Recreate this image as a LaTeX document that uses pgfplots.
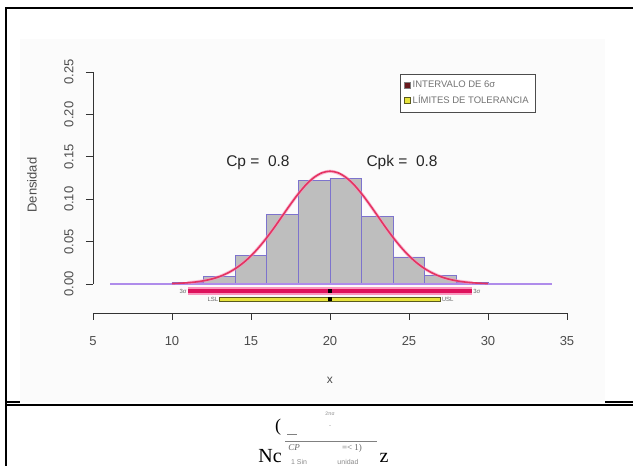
\documentclass[border=0pt]{standalone}
\usepackage{fontspec}
\setmainfont{Liberation Sans}
\newfontfamily\serif{Liberation Serif}
\usepackage{pgfplots}
\pgfplotsset{compat=1.18}

\definecolor{histfill}{RGB}{190,190,190}
\definecolor{histedge}{RGB}{125,115,205}
\definecolor{curvecol}{RGB}{228,52,98}
\definecolor{zeroline}{RGB}{175,140,235}
\definecolor{sixsig}{RGB}{222,18,92}
\definecolor{sixsighalo}{RGB}{250,150,190}
\definecolor{tolfill}{RGB}{232,228,60}
\definecolor{toledge}{RGB}{90,90,30}
\definecolor{legred}{RGB}{105,25,30}
\definecolor{bggray}{RGB}{251,251,251}

\begin{document}
\begin{tikzpicture}[x=1pt,y=1pt]
\path[use as bounding box] (0,0) rectangle (633,466);
\fill[bggray] (20,64) rectangle (605,427);
% page frame
\draw[line width=1.3pt] (6,0) -- (6,458) -- (633,458);
\draw[line width=1.3pt] (6,61) -- (633,61);
\draw[line width=1.1pt] (7,64) -- (20,64);
\draw[line width=1.1pt] (605,64) -- (633,64);

\begin{axis}[
  at={(93pt,153pt)}, anchor=south west,
  scale only axis, width=474pt, height=241pt,
  xmin=5, xmax=35, ymin=-0.0342, ymax=0.25,
  clip=false,
  axis lines=left, axis line style={draw=none,-},
  xtick={5,10,15,20,25,30,35},
  ytick={0,0.05,0.1,0.15,0.2,0.25},
  tick align=outside, major tick length=7pt,
  tick style={black!80, line width=0.8pt},
  tick label style={font=\fontsize{13}{15}\selectfont, text=black!70},
  /pgf/number format/assume math mode=true,
  xticklabel style={yshift=-13pt},
  yticklabel style={xshift=-9pt, rotate=90, anchor=south,
    /pgf/number format/.cd, fixed, fixed zerofill, precision=2},
  xlabel={x},
  xlabel style={at={(rel axis cs:0.5,-0.278)}, anchor=center, font=\fontsize{12}{14}\selectfont, text=black!70},
  ylabel={Densidad},
  ylabel style={at={(rel axis cs:-0.129,0.531)}, anchor=center, font=\fontsize{13}{15}\selectfont, text=black!70},
  legend style={at={(0.648,0.992)}, anchor=north west, draw=black!70,
    font=\fontsize{9.5}{11}\selectfont, text=black!55, inner xsep=4pt, inner ysep=5pt,
    row sep=2.5pt, cells={anchor=west}},
]
\addlegendimage{legend image code/.code={\draw[fill=legred,draw=black!50] (2pt,-3pt) rectangle (8pt,3pt);}}
\addlegendimage{legend image code/.code={\draw[fill=tolfill,draw=toledge] (2pt,-3pt) rectangle (8pt,3pt);}}
\legend{INTERVALO DE 6σ, LÍMITES DE TOLERANCIA}

% histogram (density)
\addplot[ybar interval, fill=histfill, draw=histedge, line width=0.6pt, forget plot]
  coordinates {(10,0.0015) (12,0.0086) (14,0.034) (16,0.082) (18,0.1226)
               (20,0.1246) (22,0.080) (24,0.032) (26,0.0106) (28,0.0015) (30,0.0015)};

% zero line
\addplot[zeroline, line width=1.2pt, forget plot] coordinates {(6.1,0) (34.05,0)};

% normal density curve
\addplot[sixsighalo, opacity=0.6, line width=3.2pt, smooth, forget plot] coordinates {
  (11,0.0015) (12,0.0038) (13,0.0087) (14,0.0180) (15,0.0332) (16,0.0547)
  (17,0.0807) (18,0.1065) (19,0.1258) (20,0.1330) (21,0.1258) (22,0.1065)
  (23,0.0807) (24,0.0547) (25,0.0332) (26,0.0180) (27,0.0087) (28,0.0038) (29,0.0015)};
\addplot[curvecol, line width=1.6pt, smooth, forget plot] coordinates {
  (10,0.0005) (10.5,0.0009) (11,0.0015) (11.5,0.0024) (12,0.0038) (12.5,0.0058)
  (13,0.0087) (13.5,0.0127) (14,0.0180) (14.5,0.0248) (15,0.0332) (15.5,0.0432)
  (16,0.0547) (16.5,0.0673) (17,0.0807) (17.5,0.0940) (18,0.1065) (18.5,0.1174)
  (19,0.1258) (19.5,0.1312) (20,0.1330) (20.5,0.1312) (21,0.1258) (21.5,0.1174)
  (22,0.1065) (22.5,0.0940) (23,0.0807) (23.5,0.0673) (24,0.0547) (24.5,0.0432)
  (25,0.0332) (25.5,0.0248) (26,0.0180) (26.5,0.0127) (27,0.0087) (27.5,0.0058)
  (28,0.0038) (28.5,0.0024) (29,0.0015) (29.5,0.0009) (30,0.0005)};

% 6 sigma interval
\addplot[sixsighalo, line width=7.5pt, forget plot] coordinates {(11,-0.0083) (29,-0.0083)};
\addplot[sixsig, line width=4.5pt, forget plot] coordinates {(11,-0.0083) (29,-0.0083)};

% tolerance limits
\addplot[fill=tolfill, draw=toledge, line width=0.7pt, forget plot]
  coordinates {(13,-0.0153) (27,-0.0153) (27,-0.0201) (13,-0.0201)} -- cycle;

% centre marks
\addplot[only marks, mark=square*, mark size=1.6pt, black, forget plot]
  coordinates {(20,-0.0083) (20,-0.0177)};

\node[font=\fontsize{15.5}{18}\selectfont, text=black!85] at (axis cs:15.44,0.1427) {Cp =\ \ 0.8};
\node[font=\fontsize{15.5}{18}\selectfont, text=black!85] at (axis cs:24.56,0.1427) {Cpk =\ \ 0.8};

\begin{scope}[every node/.style={font=\fontsize{6}{7}\selectfont, text=black!60, inner sep=1pt}]
\node[anchor=east] at (axis cs:11,-0.0083) {3σ};
\node[anchor=west] at (axis cs:29,-0.0083) {3σ};
\node[anchor=east] at (axis cs:13,-0.0177) {LSL};
\node[anchor=west] at (axis cs:27,-0.0177) {USL};
\end{scope}

% R-style axis lines
\draw[black!80, line width=0.8pt] (axis cs:5,0) -- (axis cs:5,0.25);
\draw[black!80, line width=0.8pt] (axis cs:5,-0.0342) -- (axis cs:35,-0.0342);
\end{axis}

% text of the page below the figure
\node[font=\serif\fontsize{18}{20}\selectfont] at (278,39) {(};
\node[font=\serif\fontsize{20}{22}\selectfont, anchor=base] at (270,3) {Nc};
\fill[white] (283,0) rectangle (378,57);
\node[text=black!45, font=\fontsize{5}{6}\selectfont] at (330,52) {2πσ};
\node[text=black!45, font=\fontsize{6}{7}\selectfont] at (330,39) {-};
\draw[black!50, line width=0.8pt] (287,32) -- (297,32);
\draw[black!50, line width=0.8pt] (285,25) -- (377,25);
\node[text=black!60, font=\serif\itshape\fontsize{9}{10}\selectfont] at (294,18) {CP};
\node[text=black!60, font=\serif\fontsize{9}{10}\selectfont] at (352,18) {=< 1)};
\node[text=black!45, font=\fontsize{7}{8}\selectfont, anchor=base] at (299,1) {1 Sin};
\node[text=black!45, font=\fontsize{7}{8}\selectfont, anchor=base] at (348,1) {unidad};
\node[font=\serif\fontsize{20}{22}\selectfont, anchor=base] at (384,3) {z};
\end{tikzpicture}
\end{document}
